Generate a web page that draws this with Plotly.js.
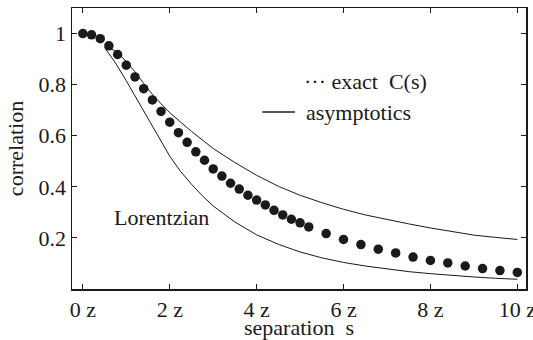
<!DOCTYPE html>
<html>
<head>
<meta charset="utf-8">
<script src="https://cdn.plot.ly/plotly-3.0.1.min.js"></script>
<style>
  html, body { margin: 0; padding: 0; background: #fff; }
  #chart { width: 533px; height: 340px; }
</style>
</head>
<body>
<div id="chart"></div>
<script>
// Exact correlation C(s), sampled at separations s (in units of z)
const exactS = [0, 0.2, 0.4, 0.6, 0.8, 1.0, 1.2, 1.4, 1.6, 1.8, 2.0, 2.2, 2.4, 2.6, 2.8,
                3.0, 3.2, 3.4, 3.6, 3.8, 4.0, 4.2, 4.4, 4.6, 4.8, 5.0, 5.2,
                5.6, 6.0, 6.4, 6.8, 7.2, 7.6, 8.0, 8.4, 8.8, 9.2, 9.6, 10.0];
const exactC = [1.0, 0.995, 0.98, 0.952, 0.918, 0.876, 0.83, 0.784, 0.74, 0.695, 0.653,
                0.612, 0.574, 0.537, 0.504, 0.47, 0.442, 0.414, 0.391, 0.367, 0.348,
                0.329, 0.308, 0.290, 0.273, 0.259, 0.243,
                0.217, 0.194, 0.174, 0.156, 0.141, 0.125, 0.112, 0.102, 0.090, 0.080, 0.072, 0.065];

// Upper asymptotic curve
const asymS = [0.5, 0.8, 1.0, 1.2, 1.4, 1.6, 1.8, 2.0, 2.5, 3.0, 3.5, 4.0, 4.5, 5.0,
               5.5, 6.0, 6.5, 7.0, 7.5, 8.0, 8.5, 9.0, 9.5, 10.0];
const asymC = [0.958, 0.925, 0.89, 0.85, 0.805, 0.762, 0.725, 0.69, 0.617, 0.55, 0.495,
               0.445, 0.402, 0.367, 0.338, 0.312, 0.29, 0.271, 0.255, 0.239, 0.224, 0.211, 0.202, 0.194];

// Lower (Lorentzian) curve
const lorS = [0.5, 0.75, 1.0, 1.25, 1.5, 1.75, 2.0, 2.25, 2.5, 2.75, 3.0, 3.5, 4.0, 4.5,
              5.0, 5.5, 6.0, 6.5, 7.0, 7.5, 8.0, 8.5, 9.0, 9.5, 10.0];
const lorC = [0.945, 0.885, 0.815, 0.74, 0.665, 0.59, 0.52, 0.46, 0.41, 0.365, 0.325,
              0.262, 0.212, 0.175, 0.145, 0.122, 0.104, 0.09, 0.078, 0.068, 0.06, 0.053,
              0.047, 0.042, 0.038];

const xTickVals = [0, 2, 4, 6, 8, 10];
const xTickText = ['0 z', '2 z', '4 z', '6 z', '8 z', '10 z'];
const yTickVals = [0.2, 0.4, 0.6, 0.8, 1];
const yTickText = ['0.2', '0.4', '0.6', '0.8', '1'];

const serif = "'Liberation Serif', 'Times New Roman', Times, serif";
const ink = '#1a1a1a';
const fs = 22;

const traces = [
  {
    x: lorS, y: lorC, mode: 'lines', name: 'Lorentzian',
    line: { color: ink, width: 1 }, hoverinfo: 'skip'
  },
  {
    x: asymS, y: asymC, mode: 'lines', name: 'asymptotics',
    line: { color: ink, width: 1 }, hoverinfo: 'skip'
  },
  {
    x: exactS, y: exactC, mode: 'markers', name: 'exact C(s)',
    marker: { color: ink, size: 9.5 }, hoverinfo: 'skip'
  }
];

const axisCommon = {
  showgrid: false, zeroline: false,
  showline: true, linecolor: ink, linewidth: 1.5, mirror: 'ticks',
  ticks: 'inside', ticklen: 5, tickwidth: 1, tickcolor: ink,
  ticklabeloverflow: 'allow',
  tickfont: { family: serif, size: fs, color: ink }
};

const layout = {
  width: 533, height: 340,
  margin: { l: 72, r: 7, t: 8, b: 51 },
  paper_bgcolor: '#fff', plot_bgcolor: '#fff',
  showlegend: false,
  xaxis: Object.assign({}, axisCommon, {
    range: [-0.25, 10.2],
    tickmode: 'array', tickvals: xTickVals, ticktext: xTickText,
    title: { text: 'separation\u00a0\u00a0s', font: { family: serif, size: fs, color: ink }, standoff: 2 }
  }),
  yaxis: Object.assign({}, axisCommon, {
    range: [0, 1.1],
    tickmode: 'array', tickvals: yTickVals, ticktext: yTickText,
    title: { text: 'correlation', font: { family: serif, size: fs, color: ink }, standoff: 9 }
  }),
  annotations: [
    { xref: 'x', yref: 'y', x: 1.82, y: 0.28, text: 'Lorentzian', showarrow: false,
      font: { family: serif, size: fs, color: ink } },
    { xref: 'paper', yref: 'paper', x: 0.507, y: 0.738, xanchor: 'left', yanchor: 'middle',
      text: '\u00b7\u00b7\u00b7 exact\u00a0\u00a0C(s)', showarrow: false,
      font: { family: serif, size: fs, color: ink } },
    { xref: 'paper', yref: 'paper', x: 0.510, y: 0.629, xanchor: 'left', yanchor: 'middle',
      text: 'asymptotics', showarrow: false,
      font: { family: serif, size: fs, color: ink } }
  ],
  shapes: [
    { type: 'line', xref: 'paper', yref: 'paper', x0: 0.419, x1: 0.491, y0: 0.630, y1: 0.630,
      line: { color: ink, width: 1.5 } }
  ]
};

Plotly.newPlot('chart', traces, layout, { staticPlot: true, displayModeBar: false });
</script>
</body>
</html>
